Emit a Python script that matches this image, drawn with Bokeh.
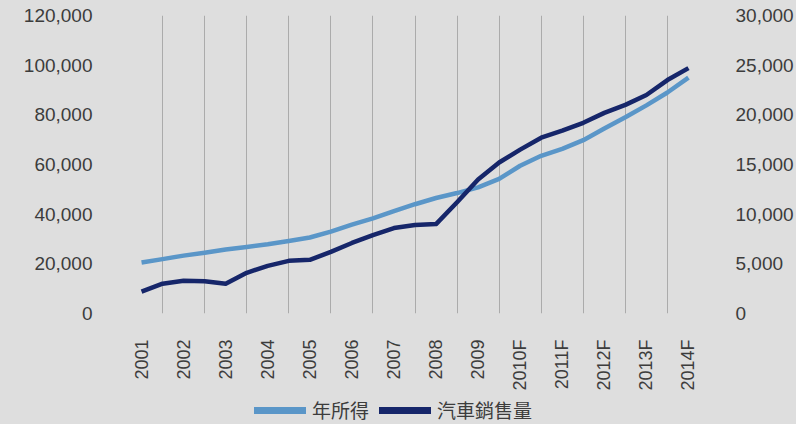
import math
from bokeh.plotting import figure
from bokeh.layouts import column
from bokeh.models import (LinearAxis, Range1d, FixedTicker, NumeralTickFormatter,
                          Legend, LegendItem)
from bokeh.embed import file_html
from bokeh.resources import INLINE

# ---- data ----
period = [2001.0, 2001.5, 2002.0, 2002.5, 2003.0, 2003.5, 2004.0, 2004.5, 2005.0,
          2005.5, 2006.0, 2006.5, 2007.0, 2007.5, 2008.0, 2008.5, 2009.0, 2009.5,
          2010.0, 2010.5, 2011.0, 2011.5, 2012.0, 2012.5, 2013.0, 2013.5, 2014.0]
income = [20500, 21900, 23300, 24500, 25800, 26800, 27900, 29200, 30600,
          33000, 35800, 38300, 41200, 44000, 46500, 48500, 50800, 54200,
          59500, 63500, 66300, 69800, 74500, 79000, 83800, 89000, 95000]
car_sales = [2200, 3000, 3300, 3250, 3000, 4100, 4800, 5300, 5400,
             6200, 7100, 7900, 8600, 8900, 9000, 11200, 13500, 15200,
             16500, 17700, 18400, 19200, 20200, 21000, 22000, 23500, 24700]
year_ticks = [2001, 2002, 2003, 2004, 2005, 2006, 2007, 2008, 2009, 2010, 2011, 2012, 2013, 2014]
year_labels = ["2001", "2002", "2003", "2004", "2005", "2006", "2007", "2008", "2009",
               "2010F", "2011F", "2012F", "2013F", "2014F"]
left_ticks = [0, 20000, 40000, 60000, 80000, 100000, 120000]
right_ticks = [0, 5000, 10000, 15000, 20000, 25000, 30000]
series_names = ["年所得", "汽車銷售量"]

BG = "#dedede"
TXT = "#3c3c3c"
LIGHT = "#5a96c8"
DARK = "#16266a"

# ---- main chart ----
p = figure(width=796, height=394,
           x_range=Range1d(year_ticks[0] - 0.5, year_ticks[-1] + 0.5),
           y_range=Range1d(left_ticks[0], left_ticks[-1]),
           output_backend="svg", toolbar_location=None,
           min_border_left=120, min_border_right=82,
           min_border_top=15, min_border_bottom=81)
p.extra_y_ranges = {"sales": Range1d(right_ticks[0], right_ticks[-1])}
p.background_fill_color = BG
p.border_fill_color = BG
p.outline_line_color = None

p.line(period, income, line_color=LIGHT, line_width=4.5, line_join="round")
p.line(period, car_sales, y_range_name="sales", line_color=DARK, line_width=4.5,
       line_join="round")

xa = p.xaxis[0]
xa.ticker = FixedTicker(ticks=year_ticks)
xa.major_label_overrides = {y: l for y, l in zip(year_ticks, year_labels)}
xa.major_label_orientation = math.pi / 2
xa.major_label_standoff = 20

ya = p.yaxis[0]
ya.ticker = FixedTicker(ticks=left_ticks)
ya.formatter = NumeralTickFormatter(format="0,0")
ya.major_label_standoff = 22

ra = LinearAxis(y_range_name="sales", ticker=FixedTicker(ticks=right_ticks),
                formatter=NumeralTickFormatter(format="0,0"))
ra.major_label_standoff = 20
p.add_layout(ra, "right")

for ax in [xa, ya, ra]:
    ax.axis_line_color = None
    ax.major_tick_line_color = None
    ax.minor_tick_line_color = None
    ax.major_label_text_font = "Liberation Sans"
    ax.major_label_text_font_size = "19px"
    ax.major_label_text_color = TXT
xa.major_label_text_font_size = "18px"

p.xgrid.ticker = FixedTicker(ticks=[t - 0.5 for t in year_ticks] + [year_ticks[-1] + 0.5])
p.xgrid.grid_line_color = "#ababab"
p.xgrid.grid_line_width = 1
p.ygrid.grid_line_color = None

# ---- legend strip (series drawn outside its view, only the legend shows) ----
lg = figure(width=796, height=30, x_range=Range1d(0, 1), y_range=Range1d(0, 1),
            output_backend="svg", toolbar_location=None, min_border=0)
lg.background_fill_color = None
lg.border_fill_color = BG
lg.outline_line_color = None
lg.axis.visible = False
lg.grid.visible = False
k1 = lg.line(period, income, line_color=LIGHT, line_width=7, line_cap="round")
k2 = lg.line(period, car_sales, line_color=DARK, line_width=7, line_cap="round")

legend = Legend(items=[LegendItem(label=series_names[0], renderers=[k1]),
                       LegendItem(label=series_names[1], renderers=[k2])],
                location=(134, 1), orientation="horizontal",
                label_text_font="Noto Sans CJK TC", label_text_font_size="19px",
                label_text_color=TXT, glyph_width=52, glyph_height=20,
                label_height=20,
                padding=0, margin=0, spacing=10, label_standoff=6,
                border_line_color=None, background_fill_alpha=0)
lg.add_layout(legend)

layout = column(p, lg, spacing=0, styles={"background-color": BG})
open("out.html", "w").write(file_html(layout, INLINE))
